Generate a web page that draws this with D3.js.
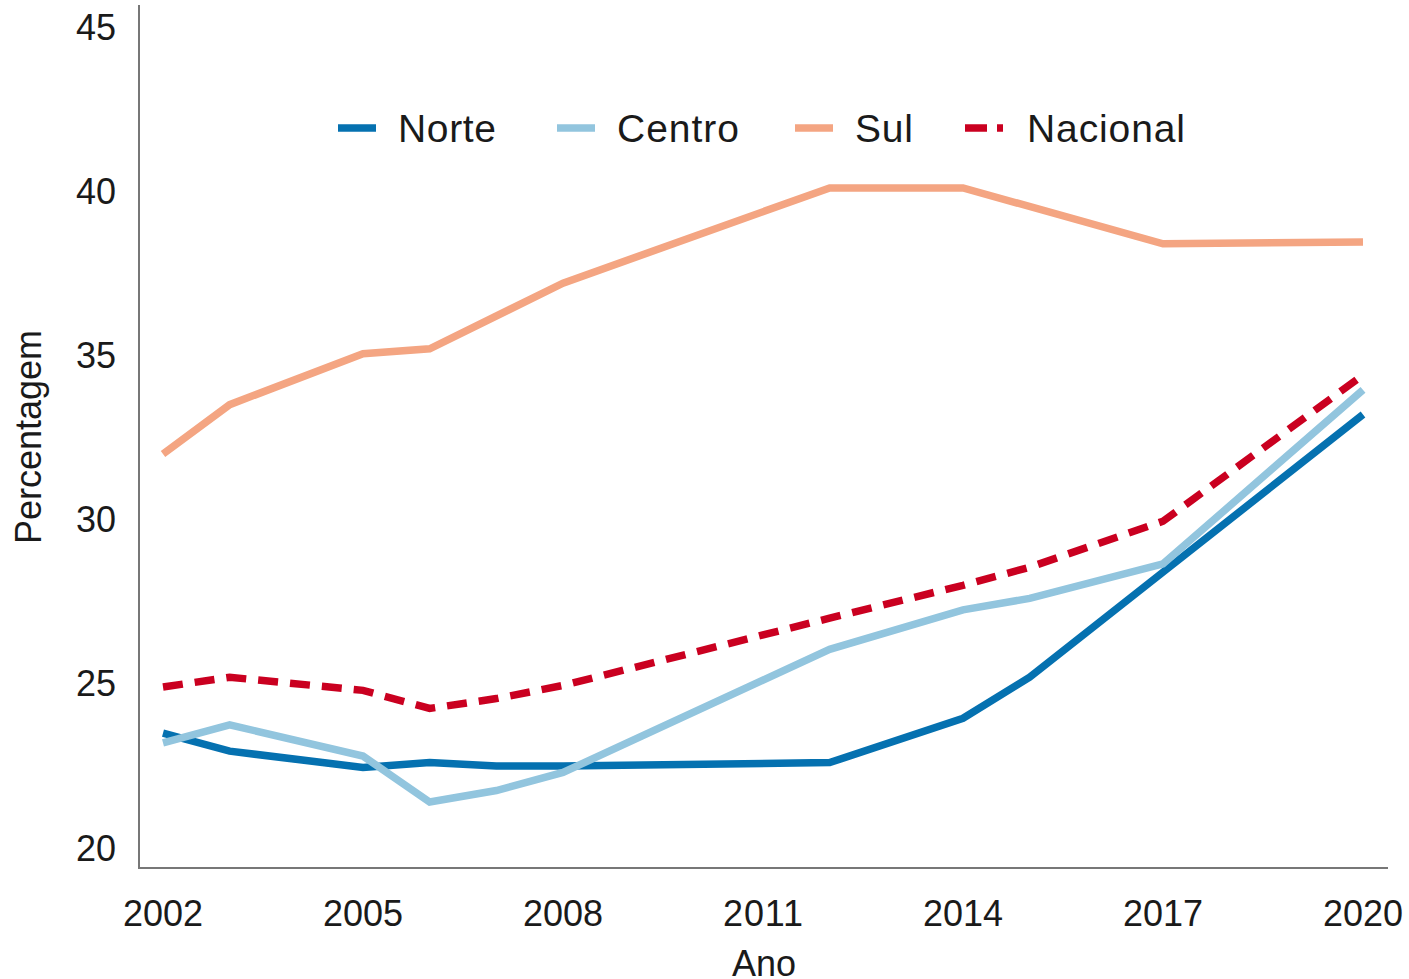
<!DOCTYPE html>
<html>
<head>
<meta charset="utf-8">
<script src="https://cdn.jsdelivr.net/npm/d3@7"></script>
<style>
  body { margin: 0; background: #fff; }
  text { font-family: "Liberation Sans", Arial, sans-serif; fill: #1a1a1a; }
</style>
</head>
<body>
<div id="chart"></div>
<script>
const years = [2002, 2003, 2005, 2006, 2007, 2008, 2012, 2014, 2015, 2017, 2020];
const norte    = [23.5, 22.95, 22.45, 22.6, 22.5, 22.5, 22.6, 23.95, 25.2, 28.4, 33.2];
const centro   = [23.2, 23.75, 22.8, 21.4, 21.75, 22.3, 26.05, 27.25, 27.6, 28.65, 33.95];
const sul      = [32.0, 33.5, 35.05, 35.2, null, 37.2, 40.1, 40.1, null, 38.4, 38.45];
const nacional = [24.9, 25.2, 24.8, 24.25, 24.55, 24.95, 27.0, 28.0, 28.55, 29.95, 34.4];
const seriesNames = ["Norte", "Centro", "Sul", "Nacional"];
const xTicks = [2002, 2005, 2008, 2011, 2014, 2017, 2020];
const yTicks = [20, 25, 30, 35, 40, 45];

const width = 1409, height = 979;
const colors = { Norte: "#0571b0", Centro: "#92c5de", Sul: "#f4a582", Nacional: "#ca0020" };
const dataBy = { Norte: norte, Centro: centro, Sul: sul, Nacional: nacional };

const svg = d3.select("#chart").append("svg")
    .attr("width", width)
    .attr("height", height);

const x = d3.scaleLinear().domain([2002, 2020]).range([163, 1363]);
const y = d3.scaleLinear().domain([20, 45]).range([848, 27]);

// axis lines
svg.append("line")
    .attr("x1", 139).attr("x2", 139).attr("y1", 5).attr("y2", 869)
    .attr("stroke", "#777").attr("stroke-width", 2);
svg.append("line")
    .attr("x1", 138).attr("x2", 1388).attr("y1", 868).attr("y2", 868)
    .attr("stroke", "#777").attr("stroke-width", 2);

// tick labels
svg.selectAll(".ytick")
    .data(yTicks)
    .enter().append("text")
    .attr("class", "ytick")
    .attr("x", 116)
    .attr("y", d => y(d))
    .attr("dy", "0.35em")
    .attr("text-anchor", "end")
    .attr("font-size", 36)
    .text(d => d);

svg.selectAll(".xtick")
    .data(xTicks)
    .enter().append("text")
    .attr("class", "xtick")
    .attr("x", d => x(d))
    .attr("y", 913)
    .attr("dy", "0.35em")
    .attr("text-anchor", "middle")
    .attr("font-size", 36)
    .attr("textLength", 80)
    .text(d => d);

svg.append("text")
    .attr("x", 764).attr("y", 963).attr("dy", "0.35em")
    .attr("text-anchor", "middle").attr("font-size", 36)
    .text("Ano");

svg.append("text")
    .attr("transform", "translate(28,437) rotate(-90)")
    .attr("dy", "0.35em")
    .attr("text-anchor", "middle").attr("font-size", 36)
    .attr("textLength", 214)
    .text("Percentagem");

// lines
const line = d3.line()
    .x(d => x(d[0]))
    .y(d => y(d[1]));

seriesNames.forEach(name => {
    const pts = years.map((yr, i) => [yr, dataBy[name][i]]).filter(d => d[1] != null);
    svg.append("path")
        .datum(pts)
        .attr("d", line)
        .attr("fill", "none")
        .attr("stroke", colors[name])
        .attr("stroke-width", 7.5)
        .attr("stroke-dasharray", name === "Nacional" ? "20,12" : null);
});

// legend
const legendX = [338, 557, 795, 965];
const legendW = [98, 122, 58, 158];
const legend = svg.selectAll(".legend")
    .data(seriesNames)
    .enter().append("g")
    .attr("class", "legend")
    .attr("transform", (d, i) => "translate(" + legendX[i] + ",128)");

legend.append("line")
    .attr("x1", 0).attr("x2", 38)
    .attr("y1", 0).attr("y2", 0)
    .attr("stroke", d => colors[d])
    .attr("stroke-width", 7.5)
    .attr("stroke-dasharray", d => d === "Nacional" ? "22,10" : null);

legend.append("text")
    .attr("x", (d, i) => i === 3 ? 62 : 60)
    .attr("y", 0)
    .attr("dy", "0.35em")
    .attr("font-size", 39)
    .attr("textLength", (d, i) => legendW[i])
    .text(d => d);
</script>
</body>
</html>
